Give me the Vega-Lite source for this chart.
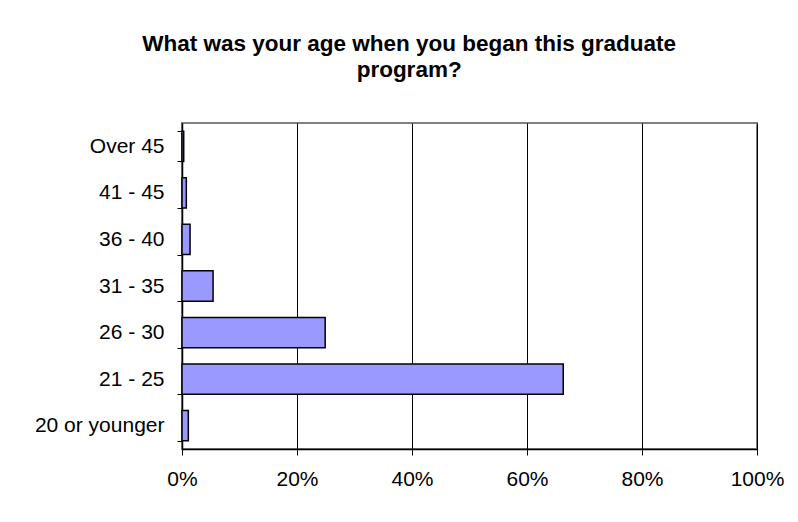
{
  "$schema": "https://vega.github.io/schema/vega-lite/v6.json",
  "width": 575,
  "height": 326,
  "autosize": {"type": "none"},
  "padding": {"left": 182, "top": 123, "right": 41, "bottom": 73},
  "background": "white",
  "title": {
    "text": ["What was your age when you began this graduate", "program?"],
    "font": "Liberation Sans",
    "fontSize": 22.5,
    "fontWeight": "bold",
    "color": "#000000",
    "anchor": "middle",
    "frame": "bounds",
    "lineHeight": 26,
    "offset": 31
  },
  "data": {
    "values": [
      {"age": "Over 45", "share": 0.003},
      {"age": "41 - 45", "share": 0.0075},
      {"age": "36 - 40", "share": 0.014},
      {"age": "31 - 35", "share": 0.054},
      {"age": "26 - 30", "share": 0.249},
      {"age": "21 - 25", "share": 0.663},
      {"age": "20 or younger", "share": 0.011}
    ]
  },
  "mark": {"type": "bar", "fill": "#9999FF", "stroke": "#000000", "strokeWidth": 1.5},
  "encoding": {
    "y": {
      "field": "age",
      "type": "nominal",
      "sort": ["Over 45", "41 - 45", "36 - 40", "31 - 35", "26 - 30", "21 - 25", "20 or younger"],
      "scale": {"paddingInner": 0.35, "paddingOuter": 0.175},
      "axis": {
        "title": null,
        "tickBand": "extent",
        "tickColor": "#000000",
        "tickSize": 5,
        "domainColor": "#000000",
        "domainWidth": 1.5,
        "labelFont": "Liberation Sans",
        "labelFontSize": 21,
        "labelColor": "#000000",
        "labelPadding": 13
      }
    },
    "x": {
      "field": "share",
      "type": "quantitative",
      "scale": {"domain": [0, 1], "nice": false},
      "axis": {
        "title": null,
        "format": ".0%",
        "values": [0, 0.2, 0.4, 0.6, 0.8, 1],
        "grid": true,
        "gridColor": "#000000",
        "gridWidth": 1,
        "gridOpacity": 1,
        "tickColor": "#000000",
        "tickSize": 6,
        "domainColor": "#000000",
        "domainWidth": 1.5,
        "labelFont": "Liberation Sans",
        "labelFontSize": 21,
        "labelColor": "#000000",
        "labelPadding": 13,
        "labelFlush": false
      }
    }
  },
  "config": {
    "view": {"stroke": "#808080", "strokeWidth": 2}
  }
}
